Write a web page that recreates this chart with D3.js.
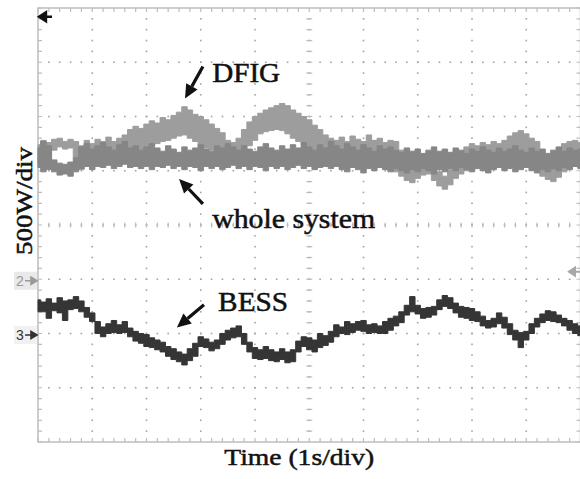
<!DOCTYPE html>
<html>
<head>
<meta charset="utf-8">
<script src="https://cdn.jsdelivr.net/npm/d3@7"></script>
<style>
  html, body { margin: 0; padding: 0; background: #fff; }
  svg { display: block; }
</style>
</head>
<body>
<div id="scope"></div>
<script>
// scope capture: 1 s/div, 500 W/div, one envelope sample every 0.1 s
const sampleStep = 0.1;
const wattsPerDiv = 500;

// channel 2 : DFIG power (W), upper / lower envelope
const dfigHi = [1240,1280,1260,1290,1300,1270,1290,1270,1230,1280,
  1250,1290,1270,1310,1270,1300,1330,1380,1410,1390,
  1430,1460,1440,1490,1470,1510,1540,1590,1560,1520,
  1500,1470,1430,1390,1350,1280,1260,1300,1380,1450,
  1500,1530,1560,1580,1600,1620,1600,1560,1530,1500,
  1470,1420,1380,1330,1300,1280,1310,1270,1320,1290,
  1270,1330,1280,1300,1260,1280,1270,1190,1100,1040,
  1070,1120,1150,1050,990,950,1010,1100,1170,1220,
  1250,1230,1260,1240,1270,1250,1280,1320,1350,1370,
  1340,1300,1270,1120,1050,1030,1100,1250,1270,1280,1260];
const dfigLo = [1050,1100,1070,1190,1220,1200,1210,1120,1010,1050,
  1040,1080,1100,1070,1090,1060,1100,1150,1170,1190,
  1210,1230,1250,1270,1280,1300,1320,1330,1300,1270,
  1230,1210,1190,1170,1150,1120,1100,1120,1170,1230,
  1280,1340,1360,1370,1380,1370,1340,1300,1270,1240,
  1210,1170,1140,1100,1080,1060,1080,1050,1090,1060,
  1040,1080,1050,1070,1040,1030,990,950,910,890,
  930,960,970,910,860,830,870,930,970,1000,
  1010,1030,1040,1020,1040,1030,1050,1080,1100,1120,
  1090,1060,1030,950,920,900,940,990,1020,1040,1030];

// channel 2 : whole system power (W)
const wholeHi = [1210,1270,1230,1100,1070,1060,1080,1120,1220,1250,
  1200,1230,1260,1220,1190,1240,1270,1210,1230,1190,
  1220,1250,1210,1180,1230,1200,1170,1220,1190,1210,
  1240,1200,1180,1230,1210,1250,1220,1190,1230,1200,
  1180,1220,1250,1210,1190,1230,1200,1240,1210,1260,
  1220,1190,1240,1210,1270,1230,1200,1250,1220,1190,
  1240,1210,1180,1230,1200,1220,1190,1170,1210,1180,
  1200,1160,1190,1220,1180,1200,1170,1210,1190,1160,
  1200,1180,1220,1190,1170,1210,1180,1200,1230,1190,
  1170,1210,1180,1200,1160,1190,1220,1180,1210,1190,1200];
const wholeLo = [1030,990,1010,990,960,970,950,990,1020,1040,
  1010,1040,1030,1050,1020,1040,1060,1030,1040,1020,
  1040,1010,1040,1030,1050,1020,1040,1010,1040,1030,
  1000,1040,1020,1040,1010,1030,1050,1020,1040,1010,
  1040,1030,1000,1040,1020,1040,1010,1030,1050,1020,
  1040,1010,1030,1040,1020,1040,1010,990,1030,1010,
  980,1020,1000,1030,1010,990,1020,1000,980,1010,
  990,1020,1000,970,1010,990,1020,1000,1030,1010,
  990,1020,1000,980,1010,1030,1000,1020,990,1010,
  1030,1000,980,1010,990,1020,1000,1030,1010,1040,1020];

// channel 3 : BESS power (W)
const bessHi = [310,290,320,280,330,300,310,340,300,240,
  190,110,60,90,120,80,110,50,20,0,
  -10,-40,-60,-80,-120,-140,-170,-190,-140,-90,
  -30,-50,-80,-60,0,30,50,70,0,-80,
  -130,-150,-120,-150,-170,-140,-170,-150,-70,-30,
  -40,-60,0,-20,20,80,60,110,90,110,
  120,80,90,70,110,140,160,200,260,340,
  260,230,240,250,310,350,330,280,250,240,
  230,200,160,120,140,190,150,90,30,10,
  20,90,140,180,210,200,170,140,120,90,70];
const bessLo = [200,200,140,210,190,120,220,230,200,150,
  110,0,-30,0,10,0,10,-30,-70,-90,
  -120,-130,-150,-170,-210,-240,-260,-290,-250,-210,
  -120,-130,-160,-140,-100,-60,-40,-30,-100,-170,
  -230,-240,-230,-250,-260,-240,-270,-260,-170,-120,
  -150,-170,-130,-110,-80,-30,0,-10,10,30,
  20,0,10,0,0,30,70,100,170,200,
  180,140,150,170,220,250,230,190,150,140,
  120,110,70,50,60,90,50,-10,-60,-130,
  -60,0,60,100,120,110,100,70,30,0,-20];

// screen: 10 x 8 divisions, 5 minor steps per division
const xDivs = d3.range(0, 11);
const yDivs = d3.range(-4, 5);

const svgWidth = 580;
const svgHeight = 479;
const plot = {left: 38, right: 580.5, top: 8, bottom: 442};

const svg = d3.select('#scope')
    .append('svg')
    .attr('width', svgWidth)
    .attr('height', svgHeight)
    .style('font-family', "'Liberation Serif', 'Times New Roman', serif");

const x = d3.scaleLinear().domain([0, 10]).range([plot.left, plot.right]);
const y = d3.scaleLinear().domain([-4, 4]).range([plot.bottom, plot.top]);

const gridColor = '#bdbdbd';
const dotColor = '#a3a3a3';
const grid = svg.append('g');

// dotted graticule
const minorX = d3.range(0, 50.5).map(k => k / 5);
const minorY = d3.range(0, 40.5).map(k => -4 + k / 5);
xDivs.slice(1, -1).forEach(t => {
  grid.selectAll(null).data(minorY.slice(1, -1)).join('rect')
      .attr('x', x(t) - 0.8).attr('y', d => y(d) - 0.8)
      .attr('width', 1.6).attr('height', 1.6).attr('fill', dotColor);
});
yDivs.slice(1, -1).forEach(v => {
  grid.selectAll(null).data(minorX.slice(1, -1)).join('rect')
      .attr('x', d => x(d) - 0.8).attr('y', y(v) - 0.8)
      .attr('width', 1.6).attr('height', 1.6).attr('fill', dotColor);
});

// centre axes with minor dashes
grid.selectAll(null).data(minorY.slice(1, -1)).join('line')
    .attr('x1', x(5) - 3).attr('x2', x(5) + 3)
    .attr('y1', d => y(d)).attr('y2', d => y(d))
    .attr('stroke', gridColor).attr('stroke-width', 1.2);
grid.selectAll(null).data(minorX.slice(1, -1)).join('line')
    .attr('x1', d => x(d)).attr('x2', d => x(d))
    .attr('y1', y(0) - 2.5).attr('y2', y(0) + 2.5)
    .attr('stroke', gridColor).attr('stroke-width', 1.2);

// border and its inward ticks
grid.append('rect')
    .attr('x', plot.left).attr('y', plot.top)
    .attr('width', plot.right - plot.left).attr('height', plot.bottom - plot.top)
    .attr('fill', 'none').attr('stroke', gridColor).attr('stroke-width', 1.5);
grid.selectAll(null).data(minorX).join('path')
    .attr('d', d => `M${x(d)},${plot.top}v4M${x(d)},${plot.bottom}v-4`)
    .attr('stroke', gridColor).attr('stroke-width', 1.2);
grid.selectAll(null).data(minorY).join('path')
    .attr('d', d => `M${plot.left},${y(d)}h4M${plot.right},${y(d)}h-4`)
    .attr('stroke', gridColor).attr('stroke-width', 1.2);

// traces
const channels = [
  {name: 'DFIG', hi: dfigHi, lo: dfigLo, ref: -1, color: '#9d9d9d'},
  {name: 'whole system', hi: wholeHi, lo: wholeLo, ref: -1, color: '#868686'},
  {name: 'BESS', hi: bessHi, lo: bessLo, ref: -2, color: '#353535'}
];

const traces = svg.append('g');
channels.forEach(ch => {
  const rows = ch.hi.map((h, i) => ({t: i * sampleStep, hi: h, lo: ch.lo[i]}));
  const area = d3.area()
      .x(d => x(d.t))
      .y0(d => y(ch.ref + d.lo / wattsPerDiv))
      .y1(d => y(ch.ref + d.hi / wattsPerDiv))
      .curve(d3.curveStep);
  traces.append('path')
      .datum(rows)
      .attr('d', area)
      .attr('fill', ch.color)
      .attr('stroke', ch.color)
      .attr('stroke-width', 1);
});

// channel reference markers
const markers = svg.append('g').style('font-family', "'Liberation Sans', Arial, sans-serif");
[{label: '2', ref: -1, color: '#9a9a9a', bg: '#e9e9e9'},
 {label: '3', ref: -2, color: '#333', bg: '#f1f1f1'}].forEach(m => {
  const yy = y(m.ref) + 1.5;
  markers.append('rect')
      .attr('x', 14).attr('y', yy - 9).attr('width', 23).attr('height', 18)
      .attr('fill', m.bg);
  markers.append('text')
      .attr('x', 16).attr('y', yy + 5)
      .attr('font-size', 14).attr('fill', m.color)
      .text(m.label);
  markers.append('path')
      .attr('d', `M25,${yy}H31M37,${yy}L31,${yy - 3.5}L31,${yy + 3.5}Z`)
      .attr('stroke', m.color).attr('stroke-width', 1.6).attr('fill', m.color);
});

// trigger markers
const trigY = y(3.84);
markers.append('path')
    .attr('d', `M39,${trigY}L46,${trigY - 4.5}L46,${trigY + 4.5}ZM45,${trigY}H52`)
    .attr('fill', '#111').attr('stroke', '#111').attr('stroke-width', 2.4);
const levelY = y(-0.86);
markers.append('path')
    .attr('d', `M569,${levelY}L575,${levelY - 4}L575,${levelY + 4}ZM574,${levelY}H581`)
    .attr('fill', '#a8a8a8').attr('stroke', '#a8a8a8').attr('stroke-width', 2);

// annotations (time s, screen div)
const notes = [
  {text: 'DFIG', at: [3.21, 2.64], len: 68, tail: [3.04, 2.92], tip: [2.71, 2.33]},
  {text: 'whole system', at: [3.21, -0.05], len: 163, tail: [3.04, 0.39], tip: [2.60, 0.85]},
  {text: 'BESS', at: [3.32, -1.58], len: 70, tail: [3.06, -1.47], tip: [2.56, -1.89]}
];

const ann = svg.append('g');
notes.forEach(n => {
  ann.append('text')
      .attr('x', x(n.at[0])).attr('y', y(n.at[1]))
      .attr('font-size', 27)
      .attr('textLength', n.len).attr('lengthAdjust', 'spacingAndGlyphs')
      .attr('fill', '#111').attr('stroke', '#111').attr('stroke-width', 0.5)
      .text(n.text);
  const x1 = x(n.tail[0]), y1 = y(n.tail[1]);
  const x2 = x(n.tip[0]), y2 = y(n.tip[1]);
  const ang = Math.atan2(y2 - y1, x2 - x1);
  const hl = 14, hw = 6.5;
  const bx = x2 - hl * Math.cos(ang), by = y2 - hl * Math.sin(ang);
  ann.append('line')
      .attr('x1', x1).attr('y1', y1).attr('x2', bx).attr('y2', by)
      .attr('stroke', '#111').attr('stroke-width', 3.2);
  ann.append('path')
      .attr('d', `M${x2},${y2}L${bx + hw * Math.sin(ang)},${by - hw * Math.cos(ang)}` +
                 `L${bx - hw * Math.sin(ang)},${by + hw * Math.cos(ang)}Z`)
      .attr('fill', '#111');
});

// axis titles
svg.append('text')
    .attr('x', x(5) - 10).attr('y', 465)
    .attr('text-anchor', 'middle')
    .attr('font-size', 24)
    .attr('textLength', 150).attr('lengthAdjust', 'spacingAndGlyphs')
    .attr('fill', '#111').attr('stroke', '#111').attr('stroke-width', 0.5)
    .text('Time (1s/div)');

svg.append('text')
    .attr('transform', `translate(32, ${y(0) - 24}) rotate(-90)`)
    .attr('text-anchor', 'middle')
    .attr('font-size', 23)
    .attr('textLength', 108).attr('lengthAdjust', 'spacingAndGlyphs')
    .attr('fill', '#111').attr('stroke', '#111').attr('stroke-width', 0.5)
    .text('500W/div');
</script>
</body>
</html>
